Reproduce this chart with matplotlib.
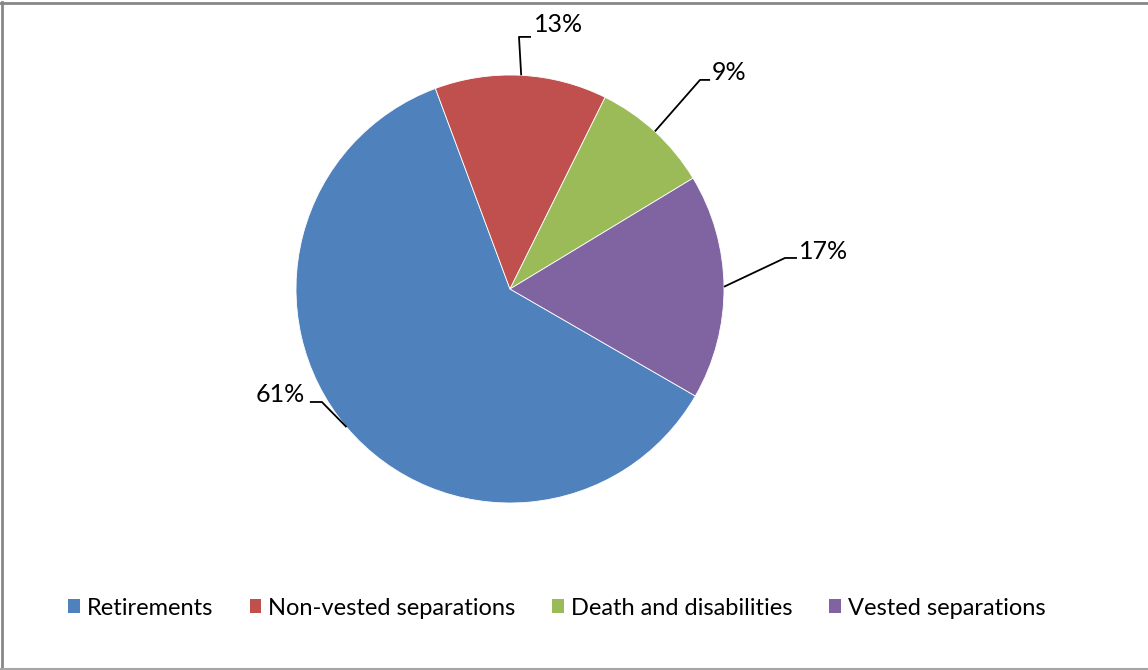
import matplotlib
matplotlib.use("Agg")
import matplotlib.pyplot as plt
import numpy as np
from matplotlib.patches import Rectangle
from matplotlib.lines import Line2D

categories = ["Retirements", "Non-vested separations", "Death and disabilities", "Vested separations"]
values = [61, 13, 9, 17]
labels = ["61%", "13%", "9%", "17%"]
colors = ["#4F81BD", "#C0504D", "#9BBB59", "#8064A2"]

# label layout (elbow point, horizontal run, text anchor) in pie data units
elbows = [(-0.879, -0.528), (0.042, 1.178), (0.888, 0.977), (1.285, 0.145)]
runs = [-0.056, 0.056, 0.047, 0.056]
text_pos = [(-0.958, -0.495), (0.112, 1.236), (0.945, 1.012), (1.35, 0.175)]
text_ha = ["right", "left", "left", "left"]

plt.rcParams['font.family'] = ['Lato', 'DejaVu Sans']

W, H = 1148, 670
fig = plt.figure(figsize=(W / 100, H / 100), dpi=100)
cx, cy, r = 510, 289, 214
ax = fig.add_axes([(cx - r) / W, (H - cy - r) / H, 2 * r / W, 2 * r / H])
wedges, _ = ax.pie(values, colors=colors, startangle=-30, counterclock=False,
                   radius=1, wedgeprops=dict(edgecolor="white", linewidth=0.6))
ax.set_xlim(-1, 1)
ax.set_ylim(-1, 1)
ax.set_aspect("equal")
ax.axis("off")

for w, lab, (ex, ey), run, (tx, ty), ha in zip(wedges, labels, elbows, runs, text_pos, text_ha):
    mid = np.deg2rad((w.theta1 + w.theta2) / 2)
    sx, sy = np.cos(mid), np.sin(mid)
    ax.plot([sx, ex, ex + run], [sy, ey, ey], color="black", lw=1.3, clip_on=False,
            solid_capstyle="butt")
    ax.text(tx, ty, lab, ha=ha, va="center", fontsize=18, color="black", clip_on=False)

handles = [Rectangle((0, 0), 1, 1, facecolor=c, edgecolor="none") for c in colors]
leg = fig.legend(handles, categories, loc="center", bbox_to_anchor=(0.485, 0.0925),
                 ncol=4, frameon=False, fontsize=17, handlelength=0.5, handleheight=0.5,
                 handletextpad=0.3, columnspacing=1.55)

fig.lines.append(Line2D([0, 1], [1 - 2.5 / H, 1 - 2.5 / H], transform=fig.transFigure,
                        color="#878787", lw=2))
fig.lines.append(Line2D([1.5 / W, 1.5 / W], [0, 1 - 1.5 / H], transform=fig.transFigure,
                        color="#878787", lw=2))
fig.lines.append(Line2D([0, 1], [1.2 / H, 1.2 / H], transform=fig.transFigure,
                        color="#a6a6a6", lw=1.5))

fig.savefig("out.png", dpi=100)
